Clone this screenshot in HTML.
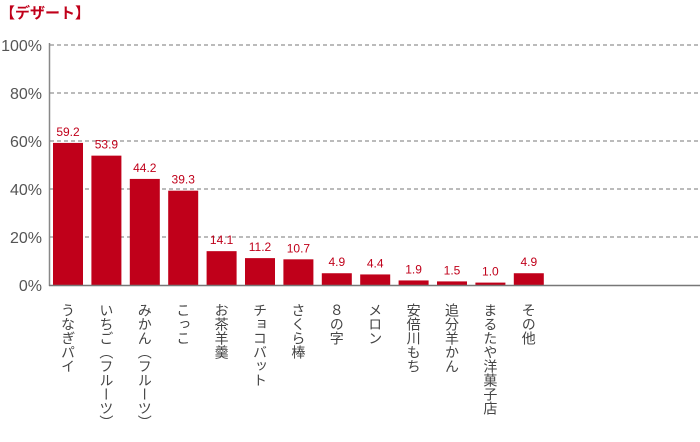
<!DOCTYPE html>
<html><head><meta charset="utf-8"><style>
body{margin:0;background:#fff;width:700px;height:442px;overflow:hidden;font-family:"Liberation Sans","Noto Sans CJK JP",sans-serif}
.t{position:absolute;left:0;top:2px;color:#c0001a;font-size:15px;font-weight:bold}
</style></head><body>
<div class="t">【デザート】</div>
<svg id="c" width="700" height="442" style="position:absolute;left:0;top:0"></svg>
<script>
const categories=["うなぎパイ","いちご（フルーツ）","みかん（フルーツ）","こっこ","お茶羊羹","チョコバット","さくら棒","８の字","メロン","安倍川もち","追分羊かん","まるたや洋菓子店","その他"];
const values=[59.2,53.9,44.2,39.3,14.1,11.2,10.7,4.9,4.4,1.9,1.5,1.0,4.9];
const valueLabels=["59.2","53.9","44.2","39.3","14.1","11.2","10.7","4.9","4.4","1.9","1.5","1.0","4.9"];
const ticks=[0,20,40,60,80,100];
const NS="http://www.w3.org/2000/svg",svg=document.getElementById('c');
const y=v=>285-v*2.4, x=i=>53+i*38.4, bw=30;
function mk(t,a,txt){const e=document.createElementNS(NS,t);for(const k in a)e.setAttribute(k,a[k]);if(txt!=null)e.textContent=txt;svg.appendChild(e);return e;}
ticks.forEach(t=>{
 if(t>0){const g=mk('line',{x1:50,x2:700,y1:y(t),y2:y(t),stroke:'#777','stroke-dasharray':'4,3','stroke-width':1});
 
 }
 const l=mk('text',{x:42,y:y(t)+6,'text-anchor':'end','font-size':16,fill:'#555'},t+'%');
 
 
});
const ax=mk('line',{x1:49.5,x2:49.5,y1:43,y2:286,stroke:'#888','stroke-width':1.5});


values.forEach((v,i)=>{
 const b=mk('rect',{x:x(i),y:y(v),width:bw,height:285-y(v),fill:'#c0001a'});
 
 
 const vl=mk('text',{x:x(i)+bw/2,y:y(v)-7,'text-anchor':'middle','font-size':12,fill:'#c0001a'},valueLabels[i]);
 
 
 const cl=mk('text',{x:x(i)+bw/2,y:303,'font-size':14,fill:'#444','writing-mode':'tb','glyph-orientation-vertical':0,style:'writing-mode:vertical-rl'},categories[i]);
 
 
});
const base=mk('line',{x1:49,x2:700,y1:285.5,y2:285.5,stroke:'#777','stroke-width':1.5});


</script>
</body></html>
